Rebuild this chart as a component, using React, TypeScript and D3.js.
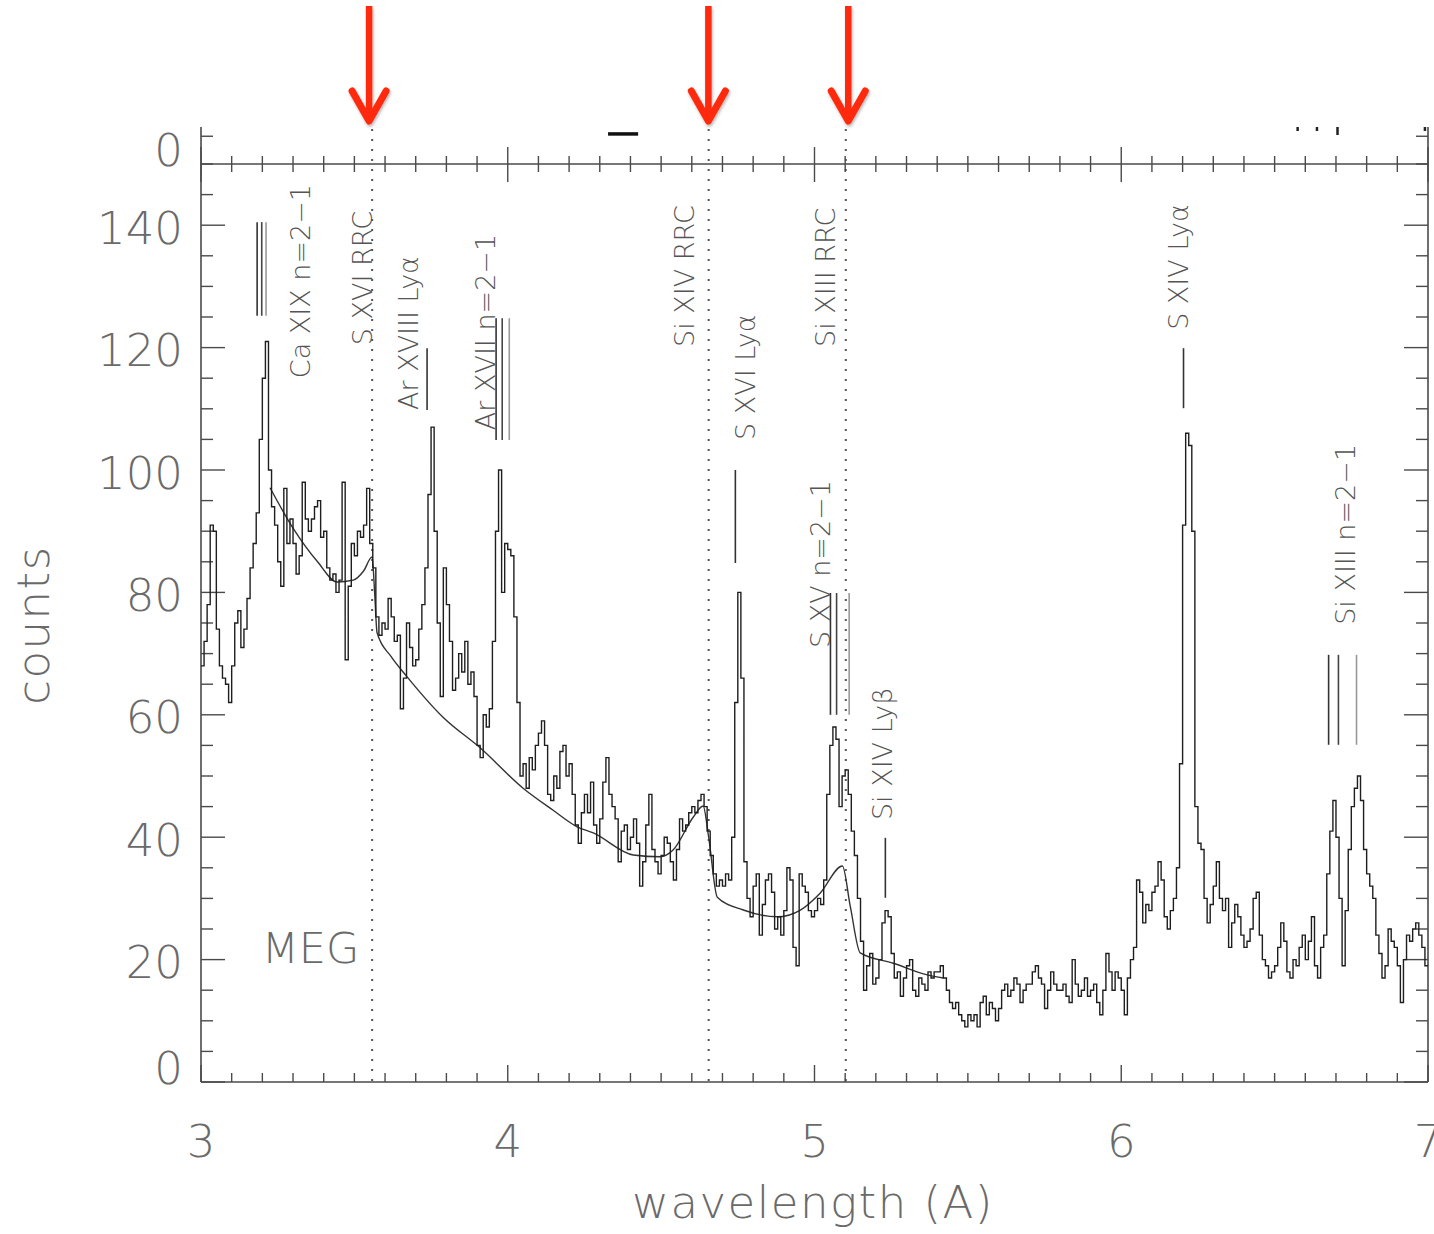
import React from 'react';
import * as d3 from 'd3';

const W = 1434;
const H = 1234;

// MEG spectrum, counts per 0.01 Å bin from 3.00 to 7.00 Å
const counts: number[] = [
  68, 72, 78, 91, 90, 74, 68, 66, 65, 62,
  68, 75, 77, 71, 74, 79, 84, 88, 93, 105,
  115, 121, 100, 94, 91, 85, 81, 97, 88, 92,
  88, 83, 86, 98, 92, 90, 92, 94, 95, 89,
  90, 84, 82, 83, 80, 82, 98, 69, 81, 88,
  86, 90, 89, 91, 97, 88, 84, 76, 73, 75,
  74, 79, 76, 72, 73, 61, 66, 75, 71, 68,
  69, 74, 78, 84, 96, 107, 90, 75, 63, 84,
  78, 72, 64, 66, 70, 67, 72, 65, 67, 63,
  55, 53, 60, 58, 61, 72, 90, 100, 80, 88,
  87, 86, 76, 62, 50, 52, 48, 53, 51, 55,
  57, 59, 55, 47, 46, 50, 48, 54, 55, 50,
  52, 47, 42, 39, 44, 47, 44, 49, 42, 39,
  43, 49, 53, 47, 45, 43, 36, 41, 42, 38,
  40, 43, 39, 32, 36, 42, 47, 38, 36, 34,
  37, 40, 39, 36, 33, 38, 43, 41, 42, 44,
  45, 44, 46, 47, 45, 41, 37, 34, 32, 33,
  32, 34, 33, 40, 62, 80, 66, 36, 30, 27,
  32, 34, 24, 29, 33, 34, 31, 25, 27, 24,
  28, 35, 33, 22, 19, 34, 32, 31, 28, 27,
  28, 30, 29, 33, 47, 55, 58, 56, 45, 50,
  51, 47, 41, 37, 30, 23, 15, 19, 21, 16,
  17, 20, 26, 28, 27, 21, 17, 18, 14, 17,
  19, 20, 15, 14, 17, 16, 15, 18, 17, 18,
  18, 19, 17, 15, 13, 12, 13, 11, 10, 9,
  11, 10, 11, 9, 13, 14, 11, 13, 12, 10,
  12, 15, 16, 14, 15, 17, 16, 13, 15, 16,
  16, 18, 19, 17, 16, 12, 15, 18, 16, 15,
  15, 16, 14, 13, 20, 16, 14, 15, 17, 14,
  15, 16, 13, 11, 15, 21, 18, 15, 18, 17,
  15, 11, 17, 20, 22, 33, 31, 26, 29, 28,
  31, 32, 36, 33, 27, 25, 28, 30, 35, 52,
  91, 106, 104, 90, 45, 39, 38, 30, 26, 29,
  32, 36, 30, 28, 30, 22, 26, 29, 27, 24,
  22, 23, 25, 30, 31, 24, 20, 19, 17, 18,
  19, 22, 26, 23, 18, 17, 20, 19, 22, 24,
  20, 23, 27, 19, 17, 22, 24, 34, 41, 46,
  40, 30, 19, 28, 38, 45, 48, 50, 46, 38,
  34, 32, 30, 24, 21, 17, 19, 25, 23, 22,
  19, 13, 20, 24, 23, 25, 26, 24, 22, 19,
];
const binStart = 3.0;
const binWidth = 0.01;
const wavelengths = counts.map((_, i) => +(binStart + i * binWidth).toFixed(2));

// continuum + RRC model
const modelWave = [3.225, 3.30, 3.38, 3.444, 3.496, 3.53, 3.558, 3.566, 3.574, 3.62, 3.672, 3.789, 3.91, 4.05, 4.148, 4.226, 4.279, 4.409, 4.497, 4.539, 4.605, 4.637, 4.655, 4.683, 4.768, 4.879, 4.954, 5.019, 5.091, 5.117, 5.149, 5.257, 5.368, 5.42];
const modelCounts = [97.1, 90.5, 85.0, 81.7, 82.0, 83.5, 85.8, 80.0, 73.4, 69.5, 66.2, 59.6, 54.6, 48.0, 44.4, 41.7, 40.7, 37.1, 36.8, 37.9, 43.3, 45.1, 40.0, 30.2, 28.1, 27.0, 28.1, 30.9, 35.3, 28.6, 21.1, 19.4, 17.5, 17.0];

// radiative recombination edges (dotted) and the red arrows
const rrcEdges = [3.558, 4.655, 5.102];
const arrowWaves = [3.548, 4.654, 5.110];

// line identifications: text centre wavelength, text start count
const lineLabels = [
  { text: 'Ca XIX n=2\u22121', wave: 3.323, count: 115.0 },
  { text: 'S XVI RRC', wave: 3.525, count: 120.4 },
  { text: 'Ar XVIII Ly\u03b1', wave: 3.675, count: 109.8 },
  { text: 'Ar XVII n=2\u22121', wave: 3.926, count: 106.5 },
  { text: 'Si XIV RRC', wave: 4.575, count: 120.1 },
  { text: 'S XVI Ly\u03b1', wave: 4.774, count: 104.9 },
  { text: 'Si XIII RRC', wave: 5.035, count: 120.1 },
  { text: 'S XV n=2\u22121', wave: 5.019, count: 70.9 },
  { text: 'Si XIV Ly\u03b2', wave: 5.221, count: 42.8 },
  { text: 'S XIV Ly\u03b1', wave: 6.187, count: 122.9 },
  { text: 'Si XIII n=2\u22121', wave: 6.731, count: 74.7 },
];

// line markers: wavelengths, count range
const lineMarkers = [
  { waves: [3.183, 3.198, 3.212], top: 140.5, bottom: 125.2 },
  { waves: [3.737], top: 119.9, bottom: 109.8 },
  { waves: [3.962, 3.982, 4.005], top: 124.8, bottom: 104.9 },
  { waves: [4.742], top: 100.0, bottom: 84.8 },
  { waves: [5.052, 5.072, 5.113], top: 79.9, bottom: 60.0 },
  { waves: [5.231], top: 39.9, bottom: 30.1 },
  { waves: [6.203], top: 119.9, bottom: 110.1 },
  { waves: [6.676, 6.708, 6.767], top: 69.8, bottom: 55.1 },
];
const markerShade = ['#333', '#444', '#999'];

// residual panel marks
const residualBars = [{ x0: 4.327, x1: 4.425, v: 0.25 }];
const residualDots = [6.575, 6.638, 6.705, 6.99];

const yTicks = [0, 20, 40, 60, 80, 100, 120, 140];
const yMinor = d3.range(0, 151, 5);
const xTicks = [3, 4, 5, 6, 7];
const xMinor = d3.range(30, 71).map((v) => v / 10);

const FONT = "'DejaVu Sans', 'Liberation Sans', sans-serif";
const TXT = '#6a6a6a';
const AX = '#4a4a4a';

export default function App() {
  const x = d3.scaleLinear().domain([3, 7]).range([201, 1428]);
  const y = d3.scaleLinear().domain([0, 150]).range([1082, 164]);
  const yTop = d3.scaleLinear().domain([-3, 1]).range([164, 127]);
  const left = x(3), right = x(7), bottom = y(0), top = y(150);
  const panelTop = yTop(1);

  const pts: [number, number][] = wavelengths.map((w, i) => [w, counts[i]]);
  pts.push([7.0, counts[counts.length - 1]]);
  const stepLine = d3
    .line<[number, number]>()
    .x((d) => x(d[0]))
    .y((d) => y(d[1]))
    .curve(d3.curveStepAfter);

  const modelLine = d3
    .line<number>()
    .x((_, i) => x(modelWave[i]))
    .y((d) => y(d))
    .curve(d3.curveMonotoneX);

  return (
    <svg
      width={W}
      height={H}
      viewBox={`0 0 ${W} ${H}`}
      style={{ position: 'absolute', left: 0, top: 0, background: '#fff' }}
    >
      <defs>
        <filter id="shadow" x="-50%" y="-10%" width="200%" height="130%">
          <feDropShadow dx="1" dy="2" stdDeviation="1.5" floodColor="#000" floodOpacity="0.3" />
        </filter>
      </defs>
      <rect x={0} y={0} width={W} height={H} fill="#fff" />

      {/* dotted RRC edges */}
      {rrcEdges.map((w, i) => (
        <line
          key={'rrc' + i}
          x1={x(w)}
          x2={x(w)}
          y1={panelTop + 2}
          y2={bottom}
          stroke="#555"
          strokeWidth={2}
          strokeDasharray="2 8"
        />
      ))}

      {/* frame */}
      <g stroke={AX} strokeWidth={1.6} fill="none">
        <line x1={left} x2={left} y1={panelTop} y2={bottom} />
        <line x1={right} x2={right} y1={panelTop} y2={bottom} />
        <line x1={left} x2={right} y1={bottom} y2={bottom} />
        <line x1={left} x2={right} y1={top} y2={top} />
      </g>

      {/* x ticks bottom */}
      <g stroke={AX} strokeWidth={1.4}>
        {xMinor.map((v, i) => {
          const major = xTicks.some((t) => Math.abs(t - v) < 1e-6);
          return (
            <g key={'xt' + i}>
              <line x1={x(v)} x2={x(v)} y1={bottom} y2={bottom - (major ? 17 : 9)} />
              <line x1={x(v)} x2={x(v)} y1={top - (major ? 17 : 8)} y2={top + (major ? 18 : 8)} />
            </g>
          );
        })}
      </g>

      {/* y ticks */}
      <g stroke={AX} strokeWidth={1.4}>
        {yMinor.map((v, i) => {
          const major = yTicks.includes(v);
          const len = major ? 24 : 12;
          return (
            <g key={'yt' + i}>
              <line x1={left} x2={left + len} y1={y(v)} y2={y(v)} />
              <line x1={right} x2={right - len} y1={y(v)} y2={y(v)} />
            </g>
          );
        })}
        <line x1={left} x2={left + 12} y1={yTop(0)} y2={yTop(0)} />
        <line x1={right} x2={right - 12} y1={yTop(0)} y2={yTop(0)} />
      </g>

      {/* residual panel marks */}
      {residualBars.map((b, i) => (
        <line key={'rb' + i} x1={x(b.x0)} x2={x(b.x1)} y1={yTop(b.v)} y2={yTop(b.v)} stroke="#111" strokeWidth={3.5} />
      ))}
      {residualDots.map((w, i) => (
        <line key={'rd' + i} x1={x(w)} x2={x(w)} y1={panelTop} y2={panelTop + (i === 2 ? 8 : 4)} stroke="#222" strokeWidth={2.5} />
      ))}

      {/* tick labels */}
      <g fill={TXT} fontFamily={FONT} fontSize={45} fontWeight={200}>
        {yTicks.map((v) => (
          <text key={'yl' + v} x={183} y={v === 0 ? 1068 : y(v) + 3} textAnchor="end" dominantBaseline="central">
            {v}
          </text>
        ))}
        <text x={183} y={150} textAnchor="end" dominantBaseline="central">0</text>
        {xTicks.map((v) => (
          <text key={'xl' + v} x={x(v)} y={1157} textAnchor="middle">
            {v}
          </text>
        ))}
        <text x={813} y={1218} textAnchor="middle" letterSpacing={1.5}>
          wavelength (A)
        </text>
        <text transform="translate(33,625) rotate(-90)" textAnchor="middle" dominantBaseline="central" letterSpacing={1.5}>
          counts
        </text>
        <text x={x(3.198)} y={y(19.5)} fontSize={43}>MEG</text>
      </g>

      {/* model */}
      <path d={modelLine(modelCounts) || ''} fill="none" stroke="#333" strokeWidth={1.4} />

      {/* spectrum */}
      <path d={stepLine(pts) || ''} fill="none" stroke="#1e1e1e" strokeWidth={1.4} />

      {/* line markers */}
      {lineMarkers.map((m, i) => (
        <g key={'lm' + i}>
          {m.waves.map((w, j) => (
            <line
              key={j}
              x1={x(w)}
              x2={x(w)}
              y1={y(m.top)}
              y2={y(m.bottom)}
              stroke={m.waves.length > 1 ? markerShade[j] : '#333'}
              strokeWidth={1.6}
            />
          ))}
        </g>
      ))}

      {/* labels */}
      <g fill="#555" fontFamily={FONT} fontSize={27} fontWeight={200}>
        {lineLabels.map((l, i) => (
          <text
            key={'ll' + i}
            transform={`translate(${x(l.wave)},${y(l.count)}) rotate(-90)`}
            dy="0.36em"
          >
            {l.text}
          </text>
        ))}
      </g>

      {/* red arrows */}
      <g stroke="#ff2a0a" fill="none" strokeLinecap="round" strokeLinejoin="round" filter="url(#shadow)">
        {arrowWaves.map((w, i) => (
          <g key={'ar' + i}>
            <line x1={x(w)} x2={x(w)} y1={6} y2={116} strokeWidth={6.5} strokeLinecap="butt" />
            <polyline points={`${x(w) - 17},${91} ${x(w)},${121} ${x(w) + 17},${91}`} strokeWidth={7} />
          </g>
        ))}
      </g>
    </svg>
  );
}
